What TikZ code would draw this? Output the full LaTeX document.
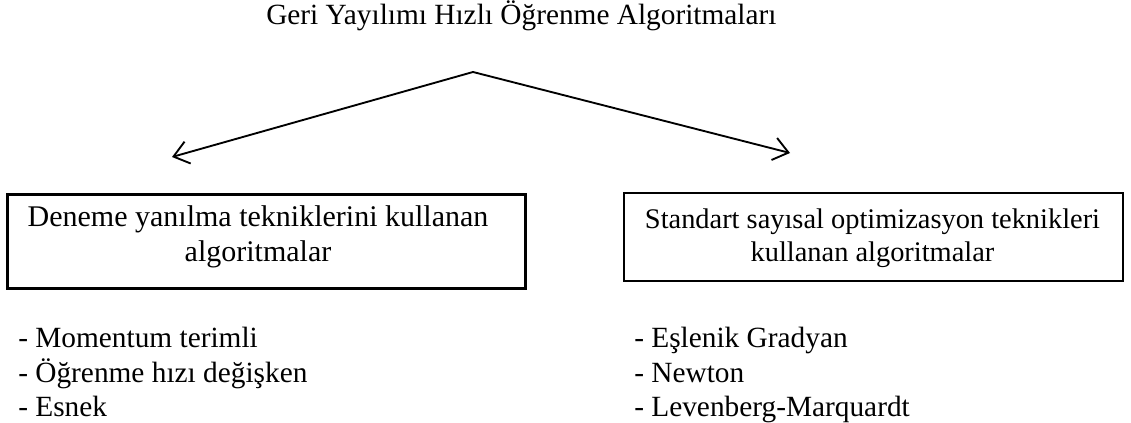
\documentclass[tikz,border=0pt]{standalone}
\usepackage{fontspec}
\setmainfont{Liberation Serif}
\usetikzlibrary{arrows.meta}
\begin{document}
\begin{tikzpicture}[x=0.75pt,y=-0.75pt,
  bodytext/.style={font=\fontsize{22}{25.3}\selectfont},
  boxtext/.style={align=center, inner sep=0pt},
  groupbox/.style={draw, inner sep=0pt},
  itemtext/.style={bodytext, anchor=base west, inner sep=0pt},
  branch/.style={line width=1.4pt, -{Straight Barb[length=11pt,width=17pt,line width=1.4pt]}}]
\useasboundingbox (0,0) rectangle (1131,423);

% title
\node[bodytext, anchor=base west, inner sep=0pt] (title) at (266,25) {Geri Yayılımı Hızlı Öğrenme Algoritmaları};

% the two branches
\coordinate (fork) at (473,72);
\coordinate (lefttip) at (172,157);
\coordinate (righttip) at (790,153);
\draw[branch] (fork) -- (lefttip);
\draw[branch] (fork) -- (righttip);

% group boxes and their captions
\node[groupbox, line width=2.25pt, minimum width=388.5pt, minimum height=70.5pt]
  (trial) at (266,242) {};
\node[boxtext, font=\fontsize{22.5}{25.9}\selectfont] (trialtext) at (258,237)
  {Deneme yanılma tekniklerini kullanan\\algoritmalar};
\node[groupbox, line width=1.5pt, minimum width=374.25pt, minimum height=66pt]
  (numeric) at (873.5,237) {};
\node[boxtext, font=\fontsize{21.3}{24.5}\selectfont] (numerictext) at (872.5,238)
  {Standart sayısal optimizasyon teknikleri\\kullanan algoritmalar};

% algorithm lists
\node[itemtext] (l1) at (18,348) {- Momentum terimli};
\node[itemtext] (l2) at (18,382.5) {- Öğrenme hızı değişken};
\node[itemtext] (l3) at (18,417) {- Esnek};
\node[itemtext] (r1) at (634,348) {- Eşlenik Gradyan};
\node[itemtext] (r2) at (634,382.5) {- Newton};
\node[itemtext] (r3) at (634,417) {- Levenberg-Marquardt};
\end{tikzpicture}
\end{document}
